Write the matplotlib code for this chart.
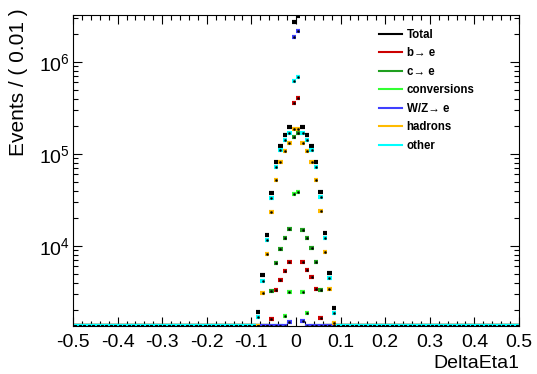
import numpy as np
import matplotlib
matplotlib.use('Agg')
import matplotlib.pyplot as plt
from matplotlib.lines import Line2D
from matplotlib.ticker import MultipleLocator, LogLocator, NullFormatter

plt.rcParams['font.family'] = ['Liberation Sans', 'DejaVu Sans']
plt.rcParams['mathtext.fontset'] = 'custom'
plt.rcParams['mathtext.rm'] = 'Liberation Sans'

# bin centres of the populated region (bin width 0.01)
centres = [-0.085, -0.075, -0.065, -0.055, -0.045, -0.035, -0.025, -0.015, -0.005,
           0.005, 0.015, 0.025, 0.035, 0.045, 0.055, 0.065, 0.075, 0.085]

total = [1930, 4810, 13200, 37400, 81300, 123000, 161000, 195000, 2720000,
         3160000, 195000, 161000, 123000, 81300, 38400, 13700, 5130, 2130]
b_to_e = [0, 0, 0, 1600, 3300, 4320, 5380, 6650, 358000,
          406000, 6650, 5480, 4570, 3380, 1640, 0, 0, 0]
c_to_e = [0, 0, 0, 3280, 6490, 9200, 12300, 15200, 154000,
          171000, 14800, 12300, 9440, 6750, 3330, 0, 0, 0]
conversions = [0, 0, 0, 0, 0, 0, 1730, 3140, 36500,
               38900, 3160, 1850, 0, 0, 0, 0, 0, 0]
wz_to_e = [0, 0, 0, 0, 0, 0, 0, 1480, 1870000,
           2170000, 1530, 0, 0, 0, 0, 0, 0, 0]
hadrons = [0, 3100, 8190, 23600, 52100, 81300, 108000, 131000, 185000,
           185000, 131000, 108000, 82400, 52100, 24000, 8530, 3410, 1470]
other = [1710, 4130, 11600, 33000, 72800, 110000, 142000, 168000, 621000,
         687000, 168000, 142000, 112000, 72800, 33800, 12100, 4460, 1880]

labels = ['Total', 'b\u2192 e', 'c\u2192 e', 'conversions', 'W/Z\u2192 e', 'hadrons', 'other']
colors = ['black', '#cc0000', '#1f9f1f', '#33ff33', '#3f3fff', '#ffbb00', '#00ffff']
series = [total, b_to_e, c_to_e, conversions, wz_to_e, hadrons, other]

ymin, ymax = 1350, 3.25e6
all_bins = np.round(np.arange(-0.495, 0.5, 0.01), 3)

fig = plt.figure(figsize=(5.37, 3.74), dpi=100)
ax = fig.add_axes([73/537, 48/374, 446/537, 311/374])
ax.set_yscale('log')

for vals, col in zip(series, colors):
    full = np.zeros(len(all_bins))
    for c, v in zip(centres, vals):
        full[np.argmin(np.abs(all_bins - c))] = v
    shown = np.where(full > ymin, full, ymin)
    ax.errorbar(all_bins, shown, xerr=0.005, fmt='o', ms=1.5, mfc='k', mec='k', mew=0.3,
                ecolor=col, elinewidth=3.0, capsize=0)

ax.set_xlim(-0.5, 0.5)
ax.set_ylim(ymin, ymax)
ax.xaxis.set_minor_locator(MultipleLocator(0.02))
ax.yaxis.set_major_locator(LogLocator(base=10))
ax.yaxis.set_minor_locator(LogLocator(base=10, subs=np.arange(2, 10)))
ax.yaxis.set_minor_formatter(NullFormatter())
ax.set_xticks(np.round(np.arange(-0.5, 0.51, 0.1), 1))
ax.set_xticklabels(['-0.5', '-0.4', '-0.3', '-0.2', '-0.1', '0', '0.1', '0.2', '0.3', '0.4', '0.5'])
ax.tick_params(which='both', direction='in', top=True, right=True, labelsize=14)
ax.tick_params(which='major', length=6.5, width=0.8)
ax.tick_params(which='minor', length=3.3, width=0.8)
ax.tick_params(axis='x', pad=6)
ax.tick_params(axis='y', pad=2)

ax.set_xlabel('DeltaEta1', fontsize=14, ha='right')
ax.xaxis.set_label_coords(1.0, -0.092)
ax.set_ylabel('Events / ( 0.01 )', fontsize=15, ha='right')
ax.yaxis.set_label_coords(-0.10, 1.02)

handles = [Line2D([], [], color=c, lw=1.5) for c in colors]
fig.legend(handles, labels, loc='upper left', bbox_to_anchor=(379/537, 1 - 29/374),
           frameon=False, borderpad=0, borderaxespad=0, handlelength=2.0,
           handletextpad=0.4, labelspacing=0.56,
           prop={'weight': 'bold', 'size': 8.3})

fig.savefig('out.png', dpi=100)
